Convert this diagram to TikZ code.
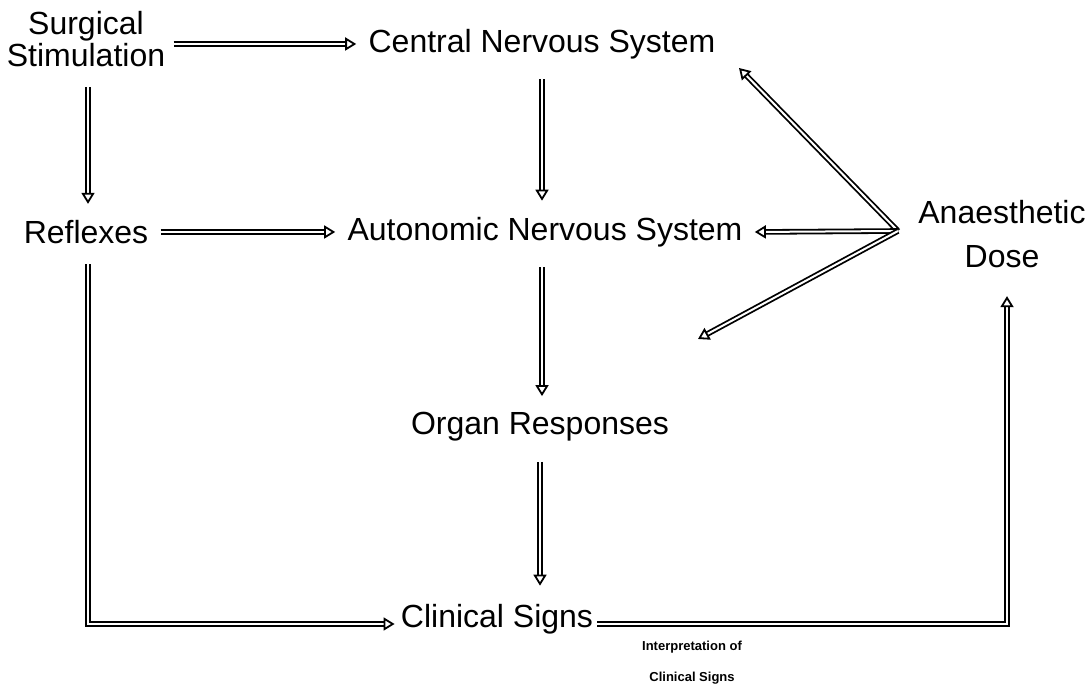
\documentclass[tikz,border=0pt]{standalone}
\usepackage{fontspec}
\setmainfont{Liberation Sans}
\usetikzlibrary{arrows.meta}
\begin{document}
\begin{tikzpicture}[x=0.5pt,y=-0.5pt,
  lab/.style={inner sep=0pt, font=\fontsize{16}{14}\selectfont, align=center},
  note/.style={inner sep=0pt, font=\bfseries\fontsize{6.5}{15.5}\selectfont, align=center},
  dbl/.style={draw=black, line width=0.9pt, double=white, double distance=1pt, line join=miter},
  arr/.style={dbl, -{Triangle[open, length=5.5pt, width=6.5pt, line width=0.9pt]}}]
\useasboundingbox (0,0) rectangle (1092,688);

% concepts
\node[lab] (sur)  at (86,39)   {Surgical\\Stimulation};
\node[lab] (cns)  at (542,44)  {Central Nervous System};
\node[lab] (refl) at (86,232)  {Reflexes};
\node[lab] (ans)  at (545,232) {Autonomic Nervous System};
\node[lab] (org)  at (540,427) {Organ Responses};
\node[lab] (cs)   at (497,619) {Clinical Signs};
\node[lab, font=\fontsize{16}{22}\selectfont] (dose) at (1002,234) {Anaesthetic\\Dose};
\node[note] (interp) at (692,663) {Interpretation of\\Clinical Signs};

% where the dose arrows meet, and the corners of the feedback loops
\coordinate (v)  at (898,231);
\coordinate (c1) at (88,624);
\coordinate (c2) at (1007,624);

% stimulation pathways
\draw[arr] ([xshift=4pt]sur.east |- cns.west) -- ([xshift=-6pt]cns.west);
\draw[arr] ([yshift=-10pt]c1 |- sur.south) -- ([yshift=8pt]c1 |- refl.north);
\draw[arr] ([yshift=-10pt]cns.south) -- ([yshift=8pt]cns.south |- ans.north);
\draw[arr] ([xshift=6pt]refl.east) -- ([xshift=-6pt]ans.west);
\draw[arr] ([yshift=-10pt]cns.south |- ans.south) -- ([yshift=8pt]cns.south |- org.north);
\draw[arr] ([yshift=-10pt]org.south) -- ([yshift=9pt]org.south |- cs.north);
\draw[arr] ([yshift=-10pt]c1 |- refl.south) -- (c1) -- ([xshift=-3pt]cs.west |- c1);

% anaesthetic dose acting on the nervous systems and organs
\draw[arr] (v) -- (739,68);
\draw[arr] (v) -- ([xshift=6pt]ans.east);
\draw[arr] (v) -- (698,339);

% interpretation of clinical signs
\draw[arr] ([xshift=2pt]cs.east |- c2) -- (c2) -- ([yshift=-14pt]c2 |- dose.south);
\end{tikzpicture}
\end{document}
